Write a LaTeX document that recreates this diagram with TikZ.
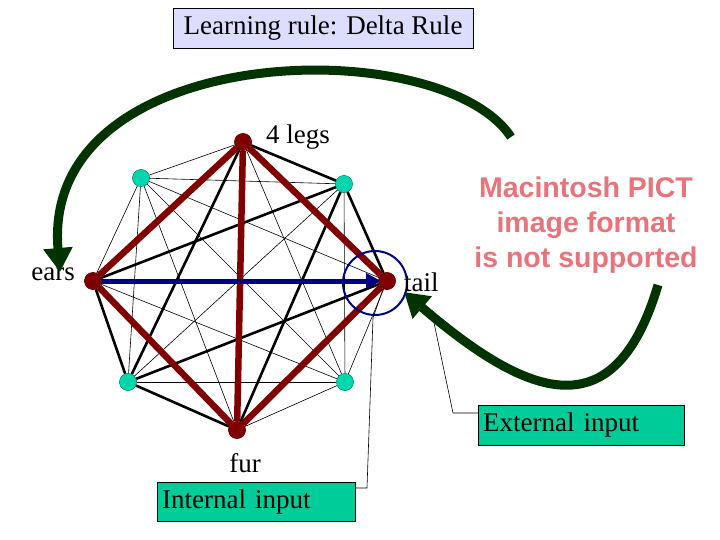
\documentclass[tikz,border=0pt]{standalone}
\usepackage{fontspec}
\setmainfont{Liberation Serif}
\newfontfamily\pictfont{Liberation Sans}
\usetikzlibrary{arrows.meta}
\definecolor{dred}{HTML}{800000}
\definecolor{boxg}{HTML}{00CC99}
\definecolor{dgreen}{HTML}{003300}
\definecolor{navy2}{HTML}{000080}
\definecolor{lav}{HTML}{DDDDFF}
\definecolor{pict}{HTML}{E8737B}
\tikzset{
 red/.style={circle,fill=dred,draw=dred!70!black,inner sep=0pt,minimum size=17pt},
 tl/.style={circle,fill=boxg!80!cyan,draw=boxg!60!black,line width=0.3pt,inner sep=0pt,minimum size=17pt},
 thin/.style={line width=0.6pt},
 thick/.style={line width=2.6pt},
 redE/.style={line width=6.5pt,draw=dred},
 lbl/.style={font=\fontsize{27}{27}\selectfont,inner sep=2pt},
 gArr/.style={draw=dgreen,line width=9pt,-{Triangle[length=24pt,width=28pt]}},
}
\begin{document}
\begin{tikzpicture}[x=1pt,y=-1pt]
\useasboundingbox (0,0) rectangle (720,540);
\node[red] (L) at (243,142) {};
\node[tl] (A) at (141,178) {};
\node[tl] (B) at (344,184) {};
\node[red] (E) at (93,281) {};
\node[red] (T) at (387,281) {};
\node[tl] (C) at (128,382) {};
\node[tl] (D) at (345,382) {};
\node[red] (F) at (237,430) {};
\foreach \a/\b in {L/A,L/C,L/D,A/B,A/E,A/T,A/C,A/D,A/F,B/E,B/C,B/D,E/D,T/D,T/C,C/D,D/F,B/F}
 \draw[thin] (\a) -- (\b);
\foreach \a/\b in {L/B,B/T,E/C,C/F,E/B,C/T,L/C,B/F}
 \draw[thick] (\a) -- (\b);
\foreach \a/\b in {L/E,L/T,L/F,E/F,F/T}
 \draw[redE] (\a) -- (\b);
\draw[navy2,line width=5pt,-{Triangle[length=15pt,width=15pt]}] (E.center) -- ([xshift=-6pt]T.center);
\node[red] at (L) {};\node[red] at (E) {};\node[red] at (T) {};\node[red] at (F) {};
\node[tl] at (A) {};\node[tl] at (B) {};\node[tl] at (C) {};\node[tl] at (D) {};
\draw[navy2,line width=2pt] (375,283) circle (32);
\node[lbl,anchor=west] (l4) at (264,137) {4 legs};
\node[lbl,anchor=east] (le) at (77,274) {ears};
\node[lbl,anchor=west] (lt) at (402,282) {tail};
\node[lbl] (lf) at (245,463) {fur};
\node[lbl,draw,fill=lav,minimum width=300pt,minimum height=40pt] (rule) at (323,28) {Learning rule: Delta Rule};
\node[lbl,draw,fill=boxg,minimum width=206pt,minimum height=40pt,anchor=north west,text width=196pt,align=left] (ext) at (478,405) {External input};
\node[lbl,draw,fill=boxg,minimum width=198pt,minimum height=39pt,anchor=north west,text width=188pt,align=left] (int) at (157,482) {Internal input};
\node[font=\pictfont\bfseries\fontsize{28.5}{35}\selectfont,text=pict,align=center] (pic) at (586,225) {Macintosh PICT\\image format\\is not supported};
\coordinate (c1) at (453,413); \coordinate (c2) at (433,318);
\draw[thin] (ext.west |- 0,413) -- (c1) -- (c2);
\coordinate (c3) at (367,488); \coordinate (c4) at (373,318); \coordinate (c5) at (384,286);
\draw[thin] (int.east |- 0,488) -- (c3) -- (c4) -- (c5);
\coordinate (g1) at (511,137); \coordinate (g2) at (60,272);
\draw[gArr] (g1) .. controls (440,30) and (40,40) .. (g2);
\coordinate (g3) at (658,285); \coordinate (g4) at (404,292);
\draw[gArr] (g3) .. controls (615,430) and (530,400) .. (g4);
\end{tikzpicture}
\end{document}
